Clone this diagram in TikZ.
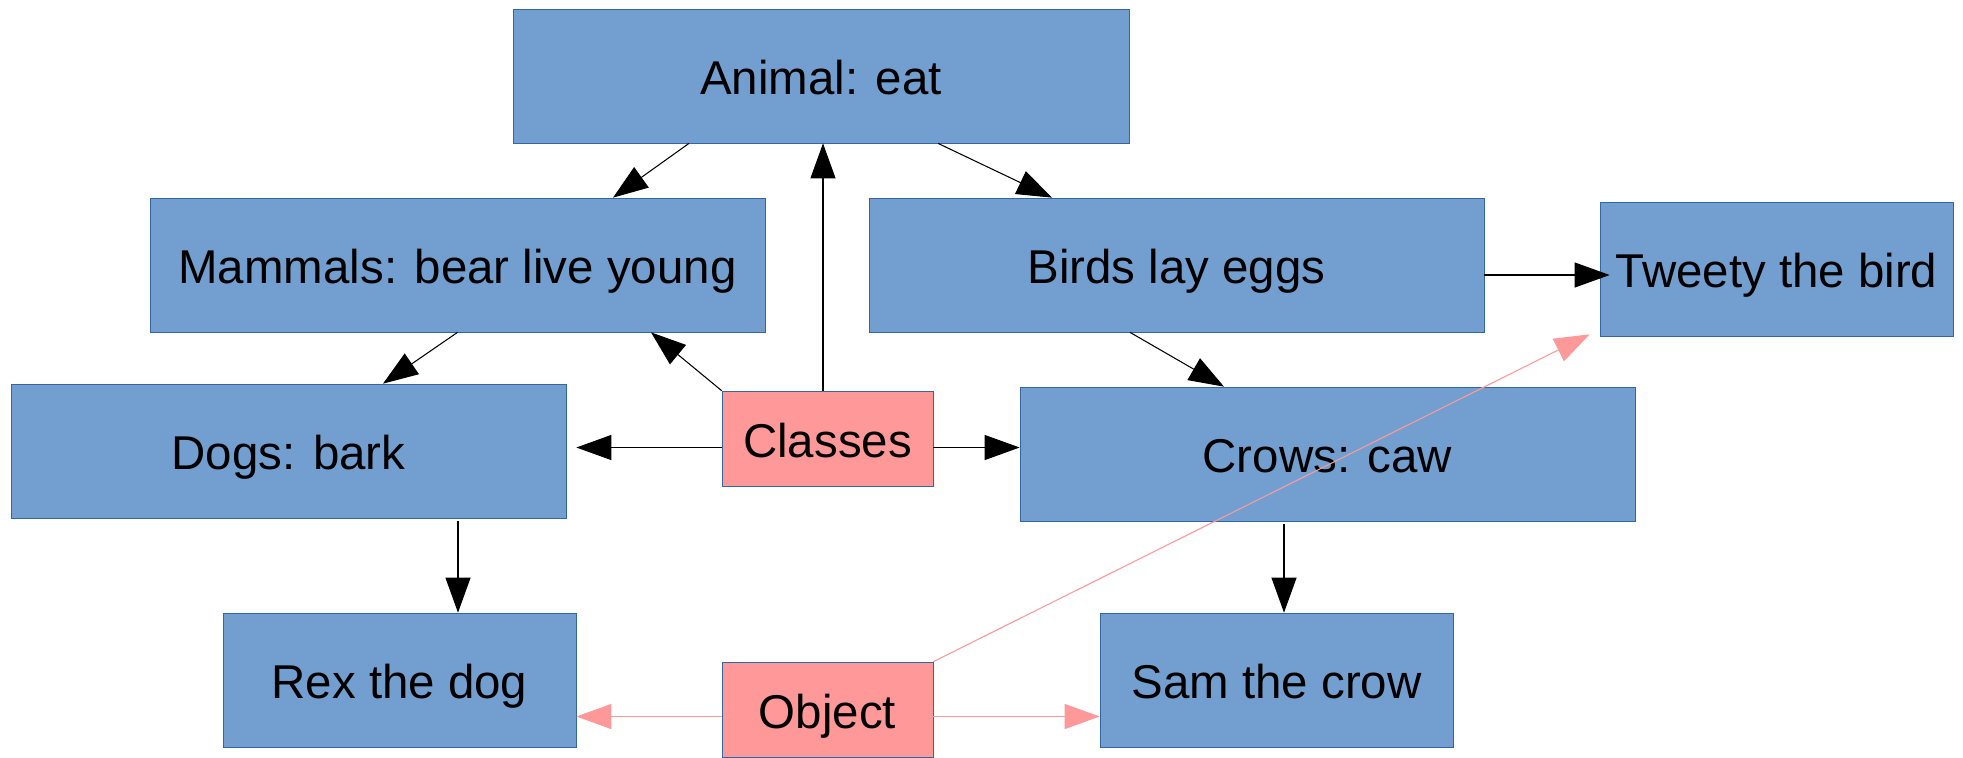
\documentclass[tikz,border=0pt]{standalone}
\usepackage{fontspec}
\setmainfont{Liberation Sans}
\usepackage{xcolor}
\usetikzlibrary{arrows.meta}

\definecolor{blu}{HTML}{729FCF}
\definecolor{bordo}{HTML}{3465A4}
\definecolor{rosa}{HTML}{FF9999}

\begin{document}
\begin{tikzpicture}[
        classe/.style={rectangle, draw=bordo, fill=blu, minimum height=2.68cm, inner sep=0pt,
                text height=23pt, text depth=1.5pt, font=\fontsize{27}{32}\selectfont},
        tipo/.style={classe, fill=rosa, minimum height=1.9cm, minimum width=4.22cm},
        freccia/.style={-{Triangle[length=0.7cm,width=0.5cm]}, line width=0.6pt},
        frecciarosa/.style={freccia, draw=rosa, fill=rosa}
    ]
            \useasboundingbox (0,0) rectangle (39.26,-15.14);

            % Nodi
            \foreach \nome/\x/\y/\w/\testo in {animal/16.42/-1.52/12.32/Animal: eat,
                    mammals/9.15/-5.30/12.3/Mammals: bear live young,
                    birds/23.53/-5.30/12.3/Birds lay eggs,
                    tweety/35.53/-5.38/7.06/Tweety the bird,
                    dogs/5.77/-9.02/11.1/Dogs: bark,
                    crows/26.55/-9.08/12.3/Crows: caw,
                    rex/7.99/-13.60/7.06/Rex the dog,
                    sam/25.53/-13.60/7.06/Sam the crow} {
                    \node[classe, minimum width=\w cm] (\nome) at (\x,\y) {\testo};
                }
            \node[tipo] (classes) at (16.55,-8.77) {Classes};
            \node[tipo] (object) at (16.55,-14.19) {Object};

            % Archi
            \draw[freccia] ([xshift=-2.64cm]animal.south) -- ([xshift=3.11cm]mammals.north);
            \draw[freccia] ([xshift=2.34cm]animal.south) -- ([xshift=-2.49cm]birds.north);
            \draw[freccia] (mammals.south) -- ([xshift=1.89cm]dogs.north);
            \draw[freccia] ([xshift=-0.93cm]birds.south) -- ([xshift=-2.07cm]crows.north);
            \draw[freccia] ([yshift=-0.2cm]birds.east) -- ([xshift=0.2cm,yshift=-0.2cm]birds.east -| tweety.west);
            \draw[freccia] ([xshift=3.39cm,yshift=-0.06cm]dogs.south) -- ([xshift=3.39cm]dogs.south |- rex.north);
            \draw[freccia] ([xshift=-0.87cm,yshift=-0.06cm]crows.south) -- ([xshift=-0.87cm]crows.south |- sam.north);

            % Classes
            \draw[freccia] ([xshift=-0.09cm]classes.north) -- ([xshift=-0.09cm]classes.north |- animal.south);
            \draw[freccia] (classes.north west) -- ([xshift=3.87cm]mammals.south);
            \draw[freccia] ([yshift=-0.18cm]classes.west) -- ([xshift=0.2cm,yshift=-0.18cm]classes.west -| dogs.east);
            \draw[freccia] ([yshift=-0.18cm]classes.east) -- ([yshift=-0.18cm]classes.east -| crows.west);

            % Object
            \draw[frecciarosa] (object.north east) -- ([xshift=-0.2cm,yshift=0.04cm]tweety.south west);
            \draw[frecciarosa] ([yshift=-0.14cm]object.west) -- ([yshift=-0.14cm]object.west -| rex.east);
            \draw[frecciarosa] ([yshift=-0.14cm]object.east) -- ([yshift=-0.14cm]object.east -| sam.west);
        \end{tikzpicture}
\end{document}
